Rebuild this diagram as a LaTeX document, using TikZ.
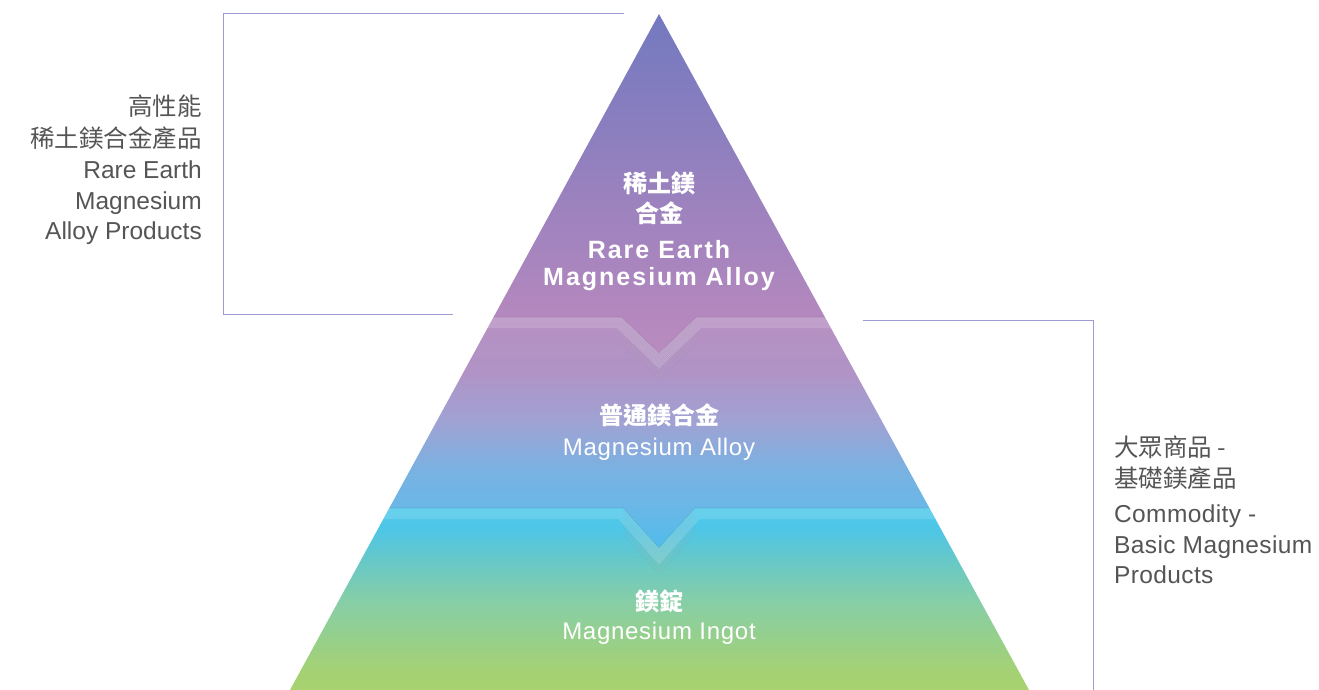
\documentclass[tikz,border=0pt]{standalone}
\usepackage{fontspec}
\setmainfont{Liberation Sans}
\newfontfamily\cjk{Noto Sans CJK TC}
\newfontfamily\latsp[LetterSpace=8]{Liberation Sans}
\newfontfamily\latspr[LetterSpace=3]{Liberation Sans}
\newfontfamily\latside[LetterSpace=1.5]{Liberation Sans}
\definecolor{bracketc}{HTML}{9C9CD2}
\definecolor{txtgray}{HTML}{555555}
% band 1
\definecolor{ba}{HTML}{B98CC1}\definecolor{bb}{HTML}{B488BE}\definecolor{bc}{HTML}{9C82BE}
\definecolor{bd}{HTML}{7F7CBF}\definecolor{be}{HTML}{7479BF}
% band 2
\definecolor{ca}{HTML}{4FBDEB}\definecolor{cb}{HTML}{6AB7E7}\definecolor{cc}{HTML}{78B2E2}
\definecolor{cd}{HTML}{9FA2D3}\definecolor{ce}{HTML}{B193C6}\definecolor{cf}{HTML}{B790C2}
% band 3
\definecolor{da}{HTML}{A9D26E}\definecolor{db}{HTML}{A4D174}\definecolor{dc}{HTML}{86CEA8}
\definecolor{dd}{HTML}{66C8C8}\definecolor{de}{HTML}{4FC6E6}\definecolor{df}{HTML}{4CC8EB}
\pgfdeclareverticalshading{bandone}{100bp}{color(0bp)=(ba); color(25bp)=(ba); color(30.31bp)=(bb); color(47.12bp)=(bc); color(66.30bp)=(bd); color(75bp)=(be); color(100bp)=(be)}
\pgfdeclareverticalshading{bandtwo}{100bp}{color(0bp)=(ca); color(25bp)=(ca); color(33.9bp)=(cb); color(41.6bp)=(cc); color(52.3bp)=(cd); color(63.2bp)=(ce); color(75bp)=(cf); color(100bp)=(cf)}
\pgfdeclareverticalshading{bandthree}{100bp}{color(0bp)=(da); color(25bp)=(da); color(30.49bp)=(db); color(49.73bp)=(dc); color(60.71bp)=(dd); color(68.96bp)=(de); color(75bp)=(df); color(100bp)=(df)}
\tikzset{
  bracketline/.style={draw=bracketc, line width=1pt},
  sidetxt/.style={text=txtgray, inner sep=0pt, font=\fontsize{24.5}{24.5}\selectfont},
  sidetxtr/.style={text=txtgray, inner sep=0pt, font=\latside\fontsize{24.5}{24.5}\selectfont},
  sidecjk/.style={text=txtgray, inner sep=0pt, font=\cjk\fontsize{24.5}{24.5}\selectfont},
  midbold/.style={text=white, inner sep=0pt, font=\latsp\bfseries\fontsize{25}{25}\selectfont},
  midreg/.style={text=white, inner sep=0pt, font=\latspr\fontsize{24}{24}\selectfont},
  midcjk/.style={text=white, inner sep=0pt, font=\cjk\bfseries\fontsize{24}{24}\selectfont},
  stripe/.style={fill=white, fill opacity=0.15},
  ridge/.style={draw=white, line width=0.8pt, draw opacity=0.08},
  ridgedark/.style={draw=black, line width=0.5pt, draw opacity=0.05},
  edgeline/.style={draw=black, line width=0.8pt, draw opacity=0.1}
}
\begin{document}
\begin{tikzpicture}[x=1pt,y=-1pt]
\useasboundingbox (0,0) rectangle (1319,690);
% pyramid corners
\coordinate (T) at (659,14);
\coordinate (L) at (290,690);
\coordinate (R) at (1029,690);
% boundary 1
\coordinate (A1) at (621.5,317);
\coordinate (V1) at (659,353);
\coordinate (B1) at (696.5,317);
% boundary 2
\coordinate (A2) at (623,508);
\coordinate (V2) at (659,548);
\coordinate (B2) at (695,508);
\begin{scope}
  \clip (T) -- (L) -- (R) -- cycle;
  \shade[shading=bandone] (200,14) -- (1100,14) -- (1100,317) -- (B1) -- (V1) -- (A1) -- (200,317) -- cycle;
  \shade[shading=bandtwo] (200,317) -- (A1) -- (V1) -- (B1) -- (1100,317) -- (1100,508) -- (B2) -- (V2) -- (A2) -- (200,508) -- cycle;
  \shade[shading=bandthree] (200,508) -- (A2) -- (V2) -- (B2) -- (1100,508) -- (1100,690) -- (200,690) -- cycle;
  % stripes
  \fill[stripe] (200,317) -- (A1) -- (V1) -- (B1) -- (1100,317) -- (1100,328) -- (701.1,328) -- (659,368.6) -- (616.9,328) -- (200,328) -- cycle;
  \fill[stripe] (200,508) -- (A2) -- (V2) -- (B2) -- (1100,508) -- (1100,519) -- (699.6,519) -- (659,564.6) -- (618.4,519) -- (200,519) -- cycle;
  \foreach \k in {1,...,14} {
    \draw[ridge] ([yshift=-1.8*\k pt]A1) -- ([yshift=-1.8*\k pt]V1) -- ([yshift=-1.8*\k pt]B1);
    \draw[ridge] ([yshift=-1.8*\k pt]A2) -- ([yshift=-1.8*\k pt]V2) -- ([yshift=-1.8*\k pt]B2);
    \draw[ridgedark] ([yshift=-1.8*\k pt-0.9pt]A1) -- ([yshift=-1.8*\k pt-0.9pt]V1) -- ([yshift=-1.8*\k pt-0.9pt]B1);
    \draw[ridgedark] ([yshift=-1.8*\k pt-0.9pt]A2) -- ([yshift=-1.8*\k pt-0.9pt]V2) -- ([yshift=-1.8*\k pt-0.9pt]B2);
  }
  \draw[edgeline] (200,317) -- (A1) -- (V1) -- (B1) -- (1100,317);
  \draw[edgeline] (200,508) -- (A2) -- (V2) -- (B2) -- (1100,508);
\end{scope}
% brackets
\coordinate (lb1) at (624,14);
\coordinate (lb2) at (223,14);
\coordinate (lb3) at (223,314);
\coordinate (lb4) at (453,314);
\draw[bracketline] (lb1) -- (lb2) -- (lb3) -- (lb4);
\coordinate (rb1) at (863,320);
\coordinate (rb2) at (1093,320);
\coordinate (rb3) at (1093,690);
\draw[bracketline] (rb1) -- (rb2) -- (rb3);
% left labels
\node[sidecjk, anchor=base east] (l1) at (202,116) {高性能};
\node[sidecjk, anchor=base east] (l2) at (202,147) {稀土鎂合金產品};
\node[sidetxt, anchor=base east] (l3) at (202,178) {Rare Earth};
\node[sidetxt, anchor=base east] (l4) at (202,209) {Magnesium};
\node[sidetxt, anchor=base east] (l5) at (202,239) {Alloy Products};
% right labels
\node[sidecjk, anchor=base west] (r1) at (1114,456) {大眾商品 -};
\node[sidecjk, anchor=base west] (r2) at (1114,487) {基礎鎂產品};
\node[sidetxtr, anchor=base west] (r3) at (1114,522) {Commodity -};
\node[sidetxtr, anchor=base west] (r4) at (1114,553) {Basic Magnesium};
\node[sidetxtr, anchor=base west] (r5) at (1114,583) {Products};
% top band
\node[midcjk, anchor=base] (t1) at (659,192) {稀土鎂};
\node[midcjk, anchor=base] (t2) at (659,222) {合金};
\node[midbold, anchor=base] (t3) at (659,258) {Rare Earth};
\node[midbold, anchor=base] (t4) at (659,285) {Magnesium Alloy};
% middle band
\node[midcjk, anchor=base] (m1) at (659,424) {普通鎂合金};
\node[midreg, anchor=base] (m2) at (659,455) {Magnesium Alloy};
% bottom band
\node[midcjk, anchor=base] (b1) at (659,610) {鎂錠};
\node[midreg, anchor=base] (b2) at (659,639) {Magnesium Ingot};
\end{tikzpicture}
\end{document}
